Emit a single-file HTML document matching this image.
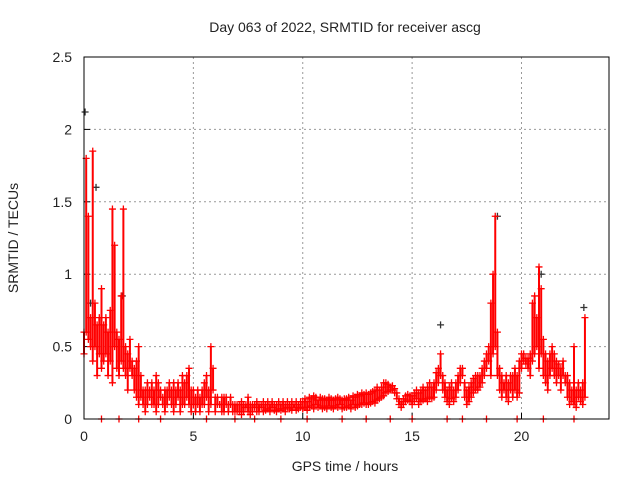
<!DOCTYPE html>
<html><head><meta charset="utf-8"><style>
body{margin:0;background:#fff;}
svg text{font-family:"Liberation Sans",sans-serif;font-size:14px;fill:#222;}
</style></head><body>
<svg id="chart" width="640" height="480">
<text x="345" y="32" text-anchor="middle">Day 063 of 2022, SRMTID for receiver ascg</text>
<text x="345" y="471" text-anchor="middle">GPS time / hours</text>
<text transform="translate(18,238) rotate(-90)" text-anchor="middle">SRMTID / TECUs</text>
<g id="grid"></g>
<g id="ticks"></g>
<g id="marks"></g>
<rect x="84" y="57" width="525" height="362" fill="none" stroke="#000" stroke-width="1"/>
</svg>
<script>
const xTicks=[0,5,10,15,20];
const yTicks=[0,0.5,1,1.5,2,2.5];
const yTickLabels=["0","0.5","1","1.5","2","2.5"];
const startHour=0, stepHour=0.1;
const lowVals=[0.45,0.6,0.55,0.5,0.4,0.5,0.3,0.45,0.35,0.4,
0.45,0.3,0.4,0.25,0.5,0.35,0.3,0.4,0.35,0.3,
0.2,0.35,0.3,0.2,0.15,0.1,0.15,0.1,0.05,0.1,
0.15,0.1,0.1,0.05,0.1,0.15,0.1,0.05,0.1,0.15,
0.1,0.05,0.1,0.15,0.05,0.1,0.1,0.15,0.1,0.05,
0.1,0.05,0.1,0.05,0.1,0.1,0.15,0.05,0.1,0.2,
0.05,0.1,0.1,0.05,0.05,0.1,0.05,0.1,0.05,0.05,
0.05,0.05,0.03,0.05,0.08,0.05,0.03,0.05,0.08,0.05,
0.05,0.08,0.05,0.06,0.07,0.05,0.08,0.06,0.05,0.07,
0.06,0.07,0.05,0.08,0.07,0.06,0.08,0.06,0.07,0.08,
0.07,0.08,0.06,0.08,0.09,0.07,0.1,0.08,0.09,0.07,
0.08,0.07,0.09,0.08,0.07,0.09,0.08,0.1,0.07,0.08,
0.08,0.09,0.07,0.1,0.08,0.09,0.1,0.1,0.11,0.1,
0.1,0.11,0.12,0.11,0.13,0.14,0.15,0.16,0.18,0.19,
0.2,0.2,0.18,0.14,0.1,0.08,0.1,0.12,0.13,0.12,
0.1,0.12,0.14,0.1,0.12,0.13,0.14,0.12,0.15,0.14,
0.15,0.2,0.25,0.3,0.2,0.15,0.12,0.1,0.14,0.12,
0.15,0.2,0.25,0.3,0.15,0.1,0.12,0.15,0.18,0.2,
0.2,0.22,0.25,0.3,0.35,0.4,0.3,0.45,0.5,0.3,
0.2,0.15,0.2,0.15,0.12,0.2,0.15,0.2,0.15,0.18,
0.35,0.4,0.38,0.35,0.3,0.4,0.45,0.5,0.35,0.45,
0.3,0.25,0.2,0.3,0.35,0.3,0.25,0.3,0.2,0.3,
0.25,0.15,0.1,0.12,0.1,0.08,0.15,0.12,0.1,0.15];
const highVals=[0.6,1.8,1.4,0.7,1.85,0.8,0.65,0.7,0.9,0.65,
0.7,0.6,0.75,1.45,1.2,0.6,0.55,0.85,1.45,0.5,
0.45,0.55,0.4,0.35,0.4,0.5,0.3,0.2,0.2,0.25,
0.2,0.25,0.2,0.3,0.25,0.2,0.15,0.2,0.2,0.25,
0.2,0.25,0.2,0.25,0.2,0.3,0.25,0.3,0.35,0.2,
0.2,0.15,0.2,0.15,0.2,0.25,0.3,0.2,0.5,0.35,
0.15,0.15,0.1,0.15,0.15,0.15,0.1,0.15,0.1,0.1,
0.1,0.1,0.12,0.1,0.1,0.15,0.1,0.1,0.1,0.12,
0.1,0.1,0.12,0.1,0.12,0.1,0.12,0.1,0.1,0.12,
0.1,0.12,0.1,0.12,0.1,0.12,0.1,0.12,0.1,0.12,
0.12,0.14,0.12,0.15,0.14,0.16,0.15,0.13,0.15,0.14,
0.14,0.13,0.15,0.14,0.13,0.14,0.15,0.14,0.13,0.14,
0.14,0.15,0.13,0.16,0.15,0.17,0.16,0.18,0.17,0.18,
0.17,0.18,0.19,0.2,0.22,0.2,0.22,0.25,0.25,0.24,
0.22,0.23,0.21,0.18,0.14,0.12,0.14,0.16,0.17,0.16,
0.16,0.18,0.2,0.18,0.2,0.22,0.2,0.22,0.25,0.22,
0.25,0.32,0.35,0.45,0.3,0.25,0.2,0.22,0.25,0.2,
0.25,0.3,0.35,0.35,0.25,0.2,0.22,0.25,0.28,0.3,
0.3,0.3,0.35,0.4,0.45,0.5,0.8,1.0,1.4,0.6,
0.35,0.3,0.25,0.3,0.25,0.3,0.3,0.35,0.3,0.4,
0.45,0.45,0.42,0.42,0.45,0.8,0.85,0.7,1.05,0.9,
0.55,0.45,0.4,0.45,0.5,0.45,0.4,0.38,0.35,0.4,
0.3,0.3,0.25,0.2,0.5,0.2,0.25,0.2,0.25,0.7];
const zeroHours=[0.8,1.6,2.5,3.5,5.6,6.9,7.8,9.0,10.2,11.8,12.9,14.0,15.0,16.6,17.3,18.4,19.8,21.0,22.4];
const blackHours=[0.05,0.3,0.55,1.75,16.3,18.9,20.9,22.85];
const blackVals=[2.12,0.8,1.6,0.85,0.65,1.4,1.0,0.77];

const X0=84,X1=609,Y0=419,Y1=57;
const xs=h=>X0+(h-0)/(24-0)*(X1-X0);
const ys=v=>Y0-(v-0)/(2.5-0)*(Y0-Y1);
const NS="http://www.w3.org/2000/svg";
const grid=document.getElementById('grid'),ticks=document.getElementById('ticks'),marks=document.getElementById('marks');
function mk(tag,attrs,parent){const e=document.createElementNS(NS,tag);for(const k in attrs)e.setAttribute(k,attrs[k]);parent.appendChild(e);return e;}
xTicks.forEach(t=>{
 const x=xs(t);
 if(t>0){const g=mk('line',{x1:x,x2:x,y1:Y1,y2:Y0,stroke:'#999','stroke-dasharray':'2,3'},grid);
 
 }
 mk('line',{x1:x,x2:x,y1:Y0,y2:Y0-6,stroke:'#000'},grid);
 const tx=mk('text',{x:x,y:Y0+22,'text-anchor':'middle'},ticks);tx.textContent=String(t);
 
 
});
yTicks.forEach((t,i)=>{
 const y=ys(t);
 if(t>0&&t<2.5){const g=mk('line',{x1:X0,x2:X1,y1:y,y2:y,stroke:'#999','stroke-dasharray':'2,3'},grid);
 
 }
 mk('line',{x1:X0,x2:X0+6,y1:y,y2:y,stroke:'#000'},grid);
 const tx=mk('text',{x:X0-12,y:y+5,'text-anchor':'end'},ticks);tx.textContent=yTickLabels[i];
 
 
});
function plus(h,v,color){
 const x=xs(h),y=ys(v);
 const p=mk('path',{d:`M${x-3.5},${y}h7M${x},${y-3.5}v7`,stroke:color,'stroke-width':1.3,fill:'none'},marks);
 
 
}
blackVals.forEach((v,i)=>plus(blackHours[i],v,'#333'));
lowVals.forEach((v,i)=>{
 const h=startHour+i*stepHour;
 const hv=highVals[i];
 const seg=mk('line',{x1:xs(h),x2:xs(h),y1:ys(v),y2:ys(hv),stroke:'#f00','stroke-width':2},marks);
 
 
 plus(h,v,'#f00');plus(h,hv,'#f00');
});
zeroHours.forEach(h=>plus(h,0,'#f00'));
</script>
</body></html>
